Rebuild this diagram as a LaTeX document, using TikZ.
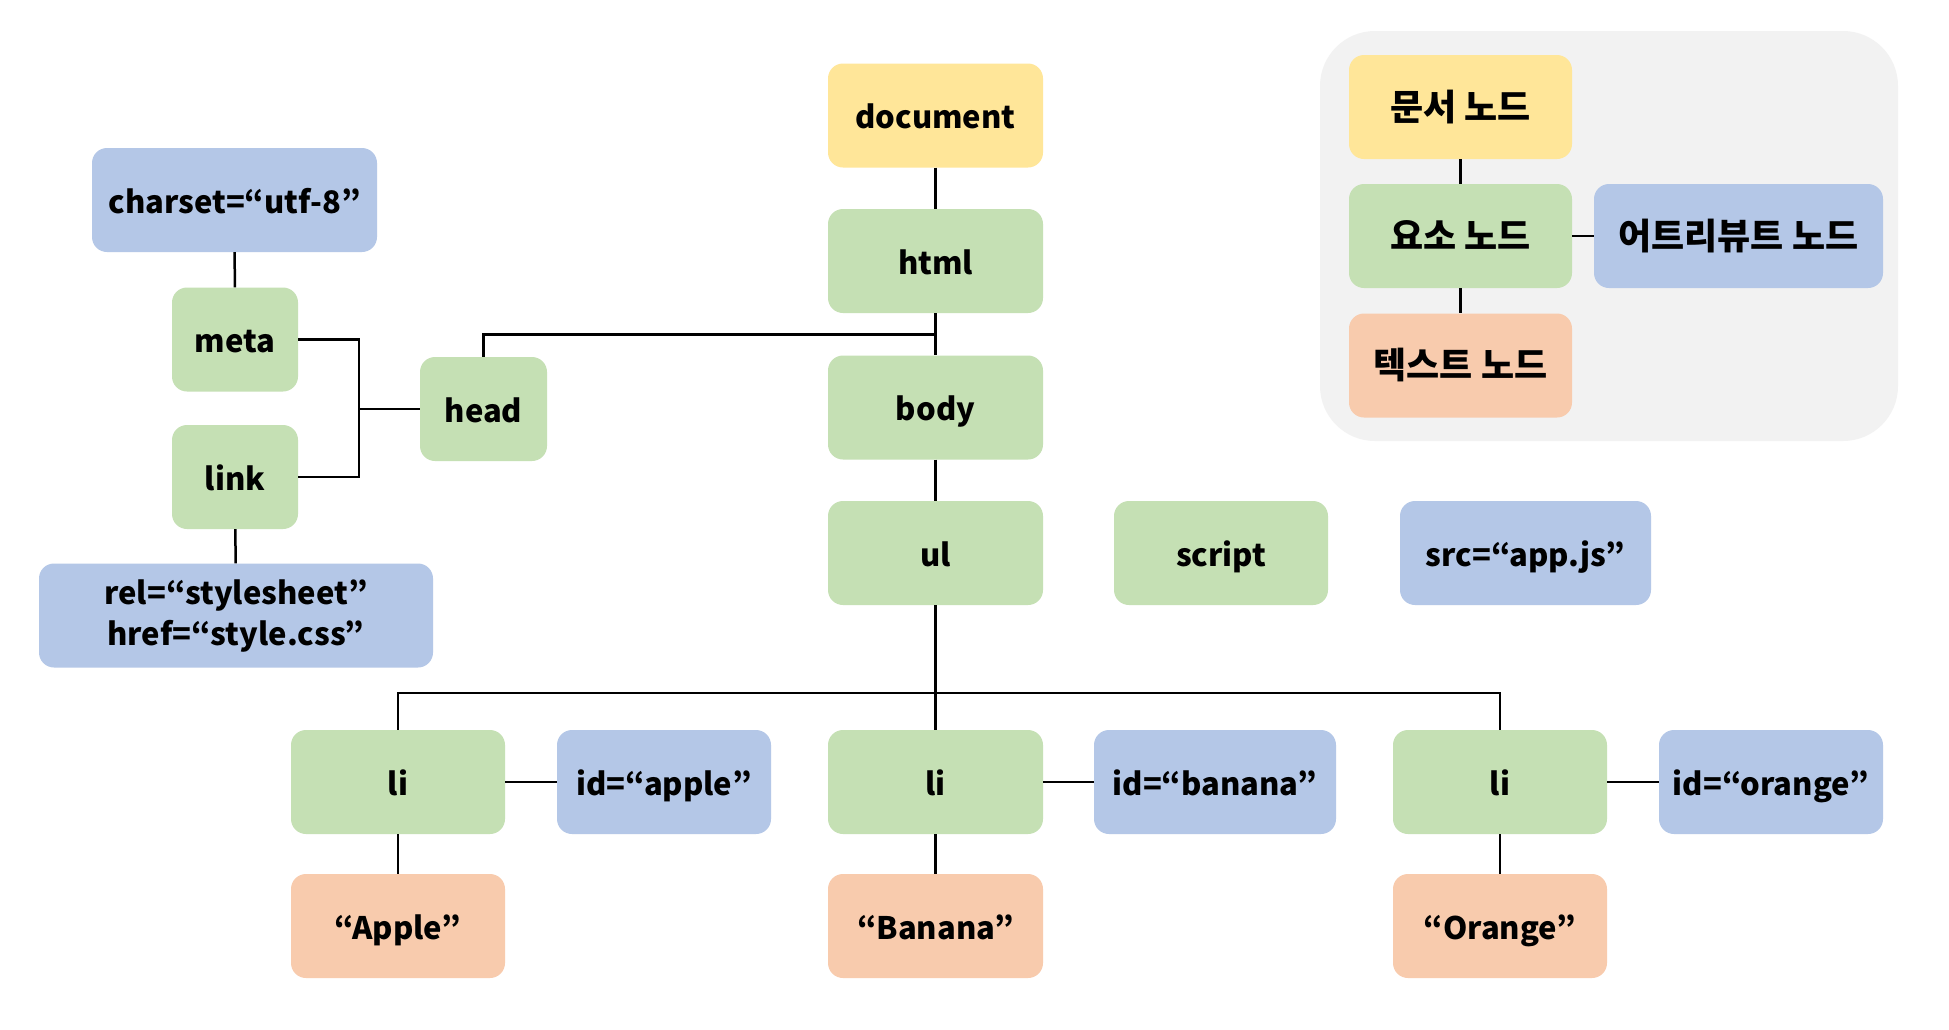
\documentclass[tikz,border=0pt]{standalone}
\usepackage{fontspec}
\setmainfont{Noto Sans CJK KR}
\usetikzlibrary{calc}
\definecolor{cyel}{HTML}{FFE699}
\definecolor{cgrn}{HTML}{C5E0B4}
\definecolor{cblu}{HTML}{B4C7E7}
\definecolor{corg}{HTML}{F8CBAD}
\definecolor{cbg}{HTML}{F2F2F2}
\tikzset{
  nbox/.style={rectangle, rounded corners=15pt, draw=none, inner sep=0pt,
    minimum height=104pt, align=center, text height=31pt, text depth=5pt,
    font=\bfseries\fontsize{31}{41}\selectfont},
  twoline/.style={text height=, text depth=},
  krbox/.style={nbox, font=\bfseries\fontsize{36}{40}\selectfont},
  docn/.style={fill=cyel},
  elem/.style={fill=cgrn},
  attr/.style={fill=cblu},
  txt/.style={fill=corg},
  conn/.style={line width=2.5pt, black},
}
\begin{document}
\begin{tikzpicture}[x=1pt,y=-1pt]
\useasboundingbox (0,0) rectangle (1949,1029);
\fill[white] (0,0) rectangle (1949,1029);
% legend background
\fill[cbg, rounded corners=55pt] (1320,31) rectangle (1898,441);
\node[krbox, docn, minimum width=223pt] (ldoc) at (1460.5,107) {문서 노드};
\node[krbox, elem, minimum width=223pt] (lelem) at (1460.5,236) {요소 노드};
\node[krbox, txt, minimum width=223pt] (ltxt) at (1460.5,365.5) {텍스트 노드};
\node[krbox, attr, minimum width=289pt] (lattr) at (1738.5,236) {어트리뷰트 노드};
\draw[conn] (ldoc) -- (lelem);
\draw[conn] (lelem) -- (ltxt);
\draw[conn] (lelem) -- (lattr);
% main column
\node[nbox, docn, minimum width=215pt] (document) at (935.5,115.5) {document};
\node[nbox, elem, minimum width=215pt] (html) at (935.5,261) {html};
\node[nbox, elem, minimum width=215pt] (body) at (935.5,407.5) {body};
\node[nbox, elem, minimum width=215pt] (ul) at (935.5,553) {ul};
\node[nbox, elem, minimum width=214pt] (script) at (1221,553) {script};
\node[nbox, attr, minimum width=251pt] (src) at (1525.5,553) {src=“app.js”};
% head branch
\node[nbox, elem, minimum width=127pt] (head) at (483.5,409) {head};
\node[nbox, elem, minimum width=126pt] (meta) at (235,339.5) {meta};
\node[nbox, elem, minimum width=126pt] (link) at (235,477) {link};
\node[nbox, attr, minimum width=285pt] (charset) at (234.5,200) {charset=“utf-8”};
\node[nbox, attr, twoline, minimum width=394pt] (rel) at (236,615.5) {rel=“stylesheet”\\href=“style.css”};
% li row
\node[nbox, elem, minimum width=214pt] (li1) at (398,782) {li};
\node[nbox, attr, minimum width=214pt] (id1) at (664,782) {id=“apple”};
\node[nbox, elem, minimum width=215pt] (li2) at (935.5,782) {li};
\node[nbox, attr, minimum width=242pt] (id2) at (1215,782) {id=“banana”};
\node[nbox, elem, minimum width=214pt] (li3) at (1500,782) {li};
\node[nbox, attr, minimum width=224pt] (id3) at (1771,782) {id=“orange”};
\node[nbox, txt, minimum width=214pt] (t1) at (398,926) {“Apple”};
\node[nbox, txt, minimum width=215pt] (t2) at (935.5,926) {“Banana”};
\node[nbox, txt, minimum width=214pt] (t3) at (1500,926) {“Orange”};
% connectors
\draw[conn] (document) -- (html);
\draw[conn] (html) -- (body);
\draw[conn] (head.north) |- ($(html.south)!.5!(body.north)$);
\draw[conn] (body) -- (ul);
\draw[conn] (charset) -- (meta);
\draw[conn] (link) -- (rel);
\draw[conn] (meta.east) -- ++(61,0) |- (link.east);
\draw[conn] (head.west) -- ++(-61,0);
\coordinate (bus) at (935.5,693);
\draw[conn] (ul) -- (li2);
\draw[conn] (li1.north) |- (bus) -| (li3.north);
\draw[conn] (li1) -- (id1);
\draw[conn] (li2) -- (id2);
\draw[conn] (li3) -- (id3);
\draw[conn] (li1) -- (t1);
\draw[conn] (li2) -- (t2);
\draw[conn] (li3) -- (t3);
\end{tikzpicture}
\end{document}
